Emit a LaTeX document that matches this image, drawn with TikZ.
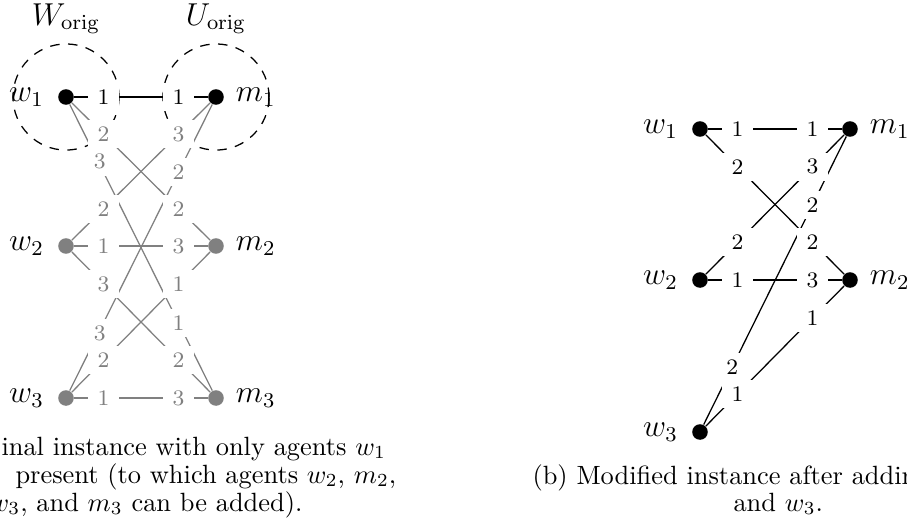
\documentclass[tikz,border=0pt]{standalone}
\tikzset{
  agentdot/.style={circle,fill=black,inner sep=0pt,minimum size=5.9pt},
  gagentdot/.style={agentdot,fill=gray},
  prefnum/.style={fill=white,inner xsep=3.5pt,inner ysep=2.5pt,font=\fontsize{8.4}{10}\selectfont},
  gprefnum/.style={prefnum,text=gray},
  agentname/.style={font=\large,inner sep=0pt},
  capline/.style={anchor=base west,inner sep=0pt,font=\normalsize},
  edgeline/.style={line width=0.48pt},
  gedgeline/.style={edgeline,draw=gray},
  orig/.style={draw,dashed,dash pattern=on 3.6pt off 3.2pt,line width=0.48pt},
}
\begin{document}
\begin{tikzpicture}[x=0.3788pt,y=-0.3788pt]
\useasboundingbox (0,0) rectangle (907,529);
\begin{scope}
\clip (0,0) rectangle (907,529);
% ---------- left diagram ----------
\node[agentdot]  (w1) at (66,97) {};
\node[gagentdot] (w2) at (66,246) {};
\node[gagentdot] (w3) at (66,398) {};
\node[agentdot]  (m1) at (216,97) {};
\node[gagentdot] (m2) at (216,246) {};
\node[gagentdot] (m3) at (216,398) {};
\node[agentname,anchor=east] (nw1) at ([xshift=-5pt]w1.west) {$w_1$};
\node[agentname,anchor=east] (nw2) at ([xshift=-5pt]w2.west) {$w_2$};
\node[agentname,anchor=east] (nw3) at ([xshift=-5pt]w3.west) {$w_3$};
\node[agentname,anchor=west] (nm1) at ([xshift=4.2pt]m1.east) {$m_1$};
\node[agentname,anchor=west] (nm2) at ([xshift=4.2pt]m2.east) {$m_2$};
\node[agentname,anchor=west] (nm3) at ([xshift=4.2pt]m3.east) {$m_3$};
\node[agentname,anchor=base] (tw) at (66,25) {$W_{\mathrm{orig}}$};
\node[agentname,anchor=base] (tu) at (216,25) {$U_{\mathrm{orig}}$};
% edges
\draw[gedgeline] (w1) -- (m2);
\draw[gedgeline] (w1) -- (m3);
\draw[gedgeline] (w2) -- (m1);
\draw[gedgeline] (w2) -- (m2);
\draw[gedgeline] (w2) -- (m3);
\draw[gedgeline] (w3) -- (m1);
\draw[gedgeline] (w3) -- (m2);
\draw[gedgeline] (w3) -- (m3);
\draw[edgeline] (w1) -- (m1);
% original sets
\draw[orig] (w1.center) circle[radius=20.1pt];
\draw[orig] (m1.center) circle[radius=20.1pt];
% preference labels
\path (w1.center) -- node[prefnum,pos=.25]{1} node[prefnum,pos=.75]{1} (m1.center);
\path (w1.center) -- node[gprefnum,pos=.25]{2} node[gprefnum,pos=.75]{2} (m2.center);
\path (w1.center) -- node[gprefnum,pos=.215,xshift=0.6pt]{3} node[gprefnum,pos=.75]{1} (m3.center);
\path (w2.center) -- node[gprefnum,pos=.25]{2} node[gprefnum,pos=.75]{3} (m1.center);
\path (w2.center) -- node[gprefnum,pos=.25]{1} node[gprefnum,pos=.75]{3} (m2.center);
\path (w2.center) -- node[gprefnum,pos=.25]{3} node[gprefnum,pos=.75]{2} (m3.center);
\path (w3.center) -- node[gprefnum,pos=.215,xshift=0.6pt]{3} node[gprefnum,pos=.75]{2} (m1.center);
\path (w3.center) -- node[gprefnum,pos=.25]{2} node[gprefnum,pos=.75]{1} (m2.center);
\path (w3.center) -- node[gprefnum,pos=.25]{1} node[gprefnum,pos=.75]{3} (m3.center);
% left caption
\node[capline] (ca1) at (1,455) {inal instance with only agents $w_1$};
\node[capline] (ca2) at (15,483) {present (to which agents $w_2$, $m_2$,};
\node[capline] (ca3) at (-11,511) {$w_3$, and $m_3$ can be added).};
% ---------- right diagram ----------
\node[agentdot] (rw1) at (700,129) {};
\node[agentdot] (rw2) at (700,280) {};
\node[agentdot] (rw3) at (700,432) {};
\node[agentdot] (rm1) at (850,129) {};
\node[agentdot] (rm2) at (850,280) {};
\node[agentname,anchor=east] (nrw1) at ([xshift=-5pt]rw1.west) {$w_1$};
\node[agentname,anchor=east] (nrw2) at ([xshift=-5pt]rw2.west) {$w_2$};
\node[agentname,anchor=east] (nrw3) at ([xshift=-5pt]rw3.west) {$w_3$};
\node[agentname,anchor=west] (nrm1) at ([xshift=4.2pt]rm1.east) {$m_1$};
\node[agentname,anchor=west] (nrm2) at ([xshift=4.2pt]rm2.east) {$m_2$};
\draw[edgeline] (rw1) -- (rm1);
\draw[edgeline] (rw1) -- (rm2);
\draw[edgeline] (rw2) -- (rm1);
\draw[edgeline] (rw2) -- (rm2);
\draw[edgeline] (rw3) -- (rm1);
\draw[edgeline] (rw3) -- (rm2);
\path (rw1.center) -- node[prefnum,pos=.25]{1} node[prefnum,pos=.75]{1} (rm1.center);
\path (rw1.center) -- node[prefnum,pos=.25]{2} node[prefnum,pos=.75]{2} (rm2.center);
\path (rw2.center) -- node[prefnum,pos=.25]{2} node[prefnum,pos=.75]{3} (rm1.center);
\path (rw2.center) -- node[prefnum,pos=.25]{1} node[prefnum,pos=.75]{3} (rm2.center);
\path (rw3.center) -- node[prefnum,pos=.215]{2} node[prefnum,pos=.75]{2} (rm1.center);
\path (rw3.center) -- node[prefnum,pos=.25]{1} node[prefnum,pos=.75]{1} (rm2.center);
% right caption
\node[capline] (cb1) at (532,484) {(b) Modified instance after addin};
\node[capline] (cb2) at (733,511) {and $w_3$.};
\end{scope}
\end{tikzpicture}
\end{document}
